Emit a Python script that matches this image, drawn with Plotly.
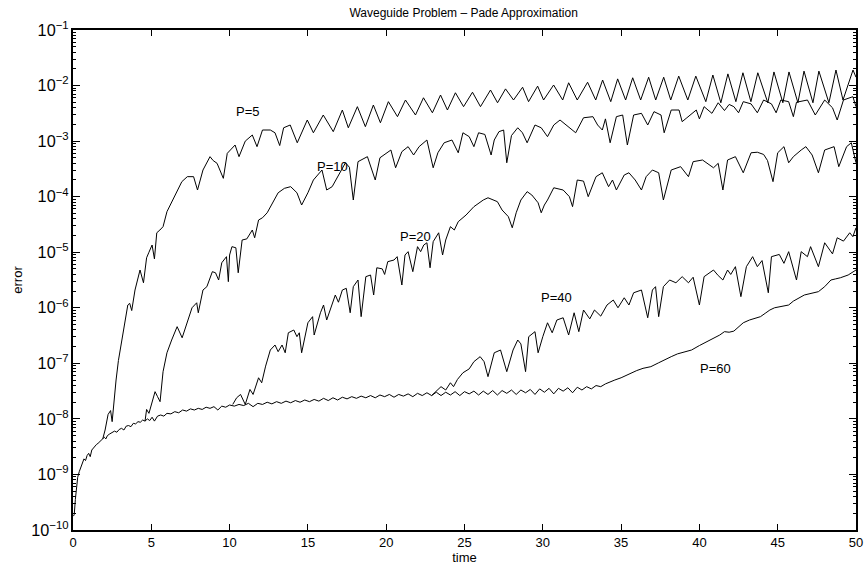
import plotly.graph_objects as go

# ---- data: time values and log10(error) ----
p60_t = [0.03, 0.08, 0.15, 0.22, 0.3, 0.4, 0.5, 0.6, 0.7, 0.8, 0.9, 1.0, 1.1, 1.2, 1.3, 1.4, 1.5, 1.6, 1.7, 1.8, 1.9,
         2.0, 2.1, 2.2, 2.35, 2.5, 2.65, 2.8, 2.95, 3.1, 3.25, 3.4, 3.55, 3.7, 3.85, 4.0, 4.15, 4.3, 4.45, 4.6, 4.75,
         4.9, 5.05, 5.2, 5.4, 5.6, 5.8, 6.0, 6.25, 6.5, 6.75, 7.0, 7.25, 7.5, 7.75, 8.0, 8.25, 8.5, 8.75, 9.0, 9.25,
         9.5, 9.75, 10.0, 10.3, 10.6, 10.9, 11.2, 11.5, 11.8, 12.1, 12.4, 12.7, 13.0, 13.3, 13.6, 13.9, 14.2, 14.5,
         14.8, 15.1, 15.4, 15.7, 16.0, 16.3, 16.6, 16.9, 17.2, 17.5, 17.8, 18.1, 18.4, 18.7, 19.0, 19.3, 19.6, 19.9,
         20.2, 20.5, 20.8, 21.1, 21.4, 21.7, 22.0, 22.3, 22.6, 22.9, 23.2, 23.5, 23.8, 24.1, 24.4, 24.7, 25.0, 25.3,
         25.6, 25.9, 26.2, 26.5, 26.8, 27.1, 27.4, 27.7, 28.0, 28.3, 28.6, 28.9, 29.2, 29.5, 29.8, 30.1, 30.4, 30.7,
         31.0, 31.3, 31.6, 31.9, 32.2, 32.5, 32.8, 33.1, 33.4, 33.7, 34.0, 34.3, 34.6, 35.0, 35.3, 35.6, 36.0, 36.4,
         36.9, 37.4, 37.8, 38.2, 38.6, 39.0, 39.5, 40.0, 40.4, 40.7, 41.0, 41.3, 41.6, 41.9, 42.2, 42.5, 42.8, 43.2,
         43.6, 43.9, 44.2, 44.5, 44.8, 45.2, 45.7, 46.0, 46.4, 46.7, 47.0, 47.4, 47.6, 48.0, 48.4, 48.7, 49.0, 49.5, 50.0]
p60_log = [-9.75, -9.72, -9.45, -9.2, -9.05, -8.95, -8.88, -8.82, -8.72, -8.75, -8.66, -8.62, -8.68, -8.56, -8.52,
           -8.5, -8.46, -8.44, -8.41, -8.38, -8.36, -8.33, -8.36, -8.3, -8.27, -8.25, -8.22, -8.24, -8.19, -8.17,
           -8.2, -8.13, -8.12, -8.14, -8.08, -8.09, -8.05, -8.06, -8.02, -8.04, -8.0, -8.03, -7.97, -8.04, -7.95,
           -7.93, -7.95, -7.9, -7.91, -7.87, -7.89, -7.84, -7.86, -7.82, -7.84, -7.81, -7.83, -7.79, -7.81, -7.78,
           -7.84, -7.77, -7.79, -7.75, -7.77, -7.74, -7.76, -7.72, -7.78, -7.72, -7.74, -7.7, -7.73, -7.69, -7.72,
           -7.68, -7.71, -7.67, -7.7, -7.66, -7.69, -7.65, -7.68, -7.63, -7.67, -7.62, -7.66, -7.61, -7.64, -7.6,
           -7.63, -7.59, -7.62, -7.58, -7.62, -7.57, -7.6, -7.56, -7.61, -7.56, -7.59, -7.55, -7.6, -7.54, -7.58,
           -7.53, -7.58, -7.52, -7.58, -7.52, -7.57, -7.51, -7.58, -7.51, -7.55, -7.5, -7.57, -7.5, -7.56, -7.49,
           -7.57, -7.49, -7.54, -7.48, -7.56, -7.48, -7.53, -7.47, -7.56, -7.46, -7.52, -7.45, -7.55, -7.45, -7.5,
           -7.44, -7.53, -7.43, -7.48, -7.42, -7.46, -7.4, -7.42, -7.37, -7.33, -7.3, -7.26, -7.22, -7.17, -7.13,
           -7.09, -7.06, -6.99, -6.93, -6.88, -6.83, -6.8, -6.76, -6.68, -6.62, -6.58, -6.54, -6.49, -6.43, -6.44,
           -6.42, -6.34, -6.27, -6.22, -6.18, -6.16, -6.1, -6.04, -6.0, -5.98, -5.95, -5.88, -5.81, -5.77, -5.75,
           -5.72, -5.71, -5.62, -5.5, -5.48, -5.46, -5.41, -5.32]

p5_t = [1.9, 2.05, 2.24, 2.4, 2.5, 2.6, 2.75, 2.9, 3.05, 3.2, 3.35, 3.5, 3.62, 3.75, 3.96, 4.1, 4.28, 4.5, 4.7, 4.85,
        5.05, 5.2, 5.35, 5.55, 5.75, 6.0, 6.3, 6.65, 6.95, 7.3, 7.7, 7.95, 8.3, 8.75, 8.95, 9.2, 9.6, 9.85, 10.35,
        10.6, 11.0, 11.45, 11.75, 12.1, 12.6, 12.9, 13.2, 13.45, 13.87, 14.32, 14.96, 15.35, 15.98, 16.62, 17.2,
        17.58, 18.16, 18.67, 19.18, 19.63, 20.14, 20.72, 21.23, 21.87, 22.38, 22.95, 23.47, 23.91, 24.42, 24.94,
        25.51, 26.02, 26.66, 27.11, 27.62, 28.13, 28.71, 29.09, 29.67, 30.05, 30.69, 31.27, 31.65, 32.2, 32.86,
        33.38, 33.82, 34.34, 34.78, 35.29, 35.74, 36.25, 36.76, 37.21, 37.72, 38.17, 38.68, 39.26, 39.77, 40.41,
        40.86, 41.37, 41.82, 42.33, 42.78, 43.29, 43.73, 44.37, 44.76, 45.33, 45.72, 46.29, 46.68, 47.25, 47.63,
        48.27, 48.72, 49.17, 49.81, 50.0]
p5_log = [-8.36, -8.2, -7.92, -7.85, -8.05, -7.7, -7.3, -6.95, -6.7, -6.4, -6.2, -5.95, -5.92, -6.05, -5.68, -5.5,
          -5.32, -5.55, -5.1, -5.0, -4.87, -5.12, -4.65, -4.6, -4.54, -4.27, -4.1, -3.93, -3.73, -3.64, -3.64, -3.88,
          -3.52, -3.28, -3.35, -3.4, -3.67, -3.22, -3.07, -3.28, -3.0, -2.89, -3.1, -2.8, -2.8, -2.85, -3.08, -2.76,
          -2.71, -3.03, -2.62, -2.85, -2.53, -2.83, -2.44, -2.76, -2.38, -2.74, -2.35, -2.67, -2.29, -2.56, -2.26,
          -2.53, -2.22, -2.49, -2.17, -2.44, -2.13, -2.38, -2.12, -2.38, -2.08, -2.31, -2.06, -2.26, -2.03, -2.29,
          -2.01, -2.26, -1.99, -2.26, -1.95, -2.26, -1.94, -2.26, -1.9, -2.29, -1.88, -2.26, -1.86, -2.26, -1.85,
          -2.26, -1.85, -2.26, -1.83, -2.26, -1.83, -2.29, -1.81, -2.31, -1.79, -2.29, -1.77, -2.29, -1.77, -2.31,
          -1.755, -2.31, -1.755, -2.31, -1.74, -2.31, -1.74, -2.31, -1.72, -2.26, -1.72, -1.85]

p10_t = [4.6, 4.7, 4.85, 5.0, 5.24, 5.4, 5.56, 5.75, 6.0, 6.3, 6.65, 6.97, 7.29, 7.6, 7.9, 8.0, 8.3, 8.55, 8.9, 9.1,
         9.3, 9.5, 9.8, 9.92, 10.0, 10.15, 10.4, 10.55, 10.8, 11.1, 11.45, 11.6, 11.85, 12.1, 12.4, 12.6, 12.85,
         13.1, 13.5, 13.9, 14.3, 14.6, 15.0, 15.35, 15.9, 16.2, 16.55, 16.9, 17.4, 17.65, 17.9, 18.2, 18.8, 19.3,
         19.6, 20.3, 20.6, 21.0, 21.4, 21.75, 22.1, 22.6, 23.0, 23.3, 23.7, 24.2, 24.6, 24.9, 25.3, 25.6, 25.9,
         26.3, 26.7, 26.9, 27.2, 27.5, 27.7, 28.0, 28.4, 28.7, 29.0, 29.5, 29.9, 30.3, 30.7, 31.1, 31.5, 32.1,
         32.6, 33.2, 33.5, 33.8, 34.0, 34.3, 34.7, 35.1, 35.4, 35.8, 36.3, 36.7, 37.1, 37.55, 37.75, 38.2, 38.7,
         38.9, 39.2, 39.8, 40.0, 40.3, 40.8, 41.2, 41.6, 41.9, 42.2, 42.5, 42.8, 43.3, 43.7, 44.1, 44.6, 44.9,
         45.2, 45.7, 46.0, 46.2, 46.9, 47.4, 48.0, 48.5, 48.8, 49.2, 49.8, 50.0]
p10_log = [-8.04, -7.83, -7.9, -7.75, -7.51, -7.6, -7.69, -7.15, -6.81, -6.58, -6.34, -6.54, -6.27, -6.0, -5.91,
           -6.09, -5.68, -5.62, -5.35, -5.37, -5.5, -5.19, -5.08, -5.53, -5.05, -4.9, -4.92, -5.37, -4.78, -4.76,
           -4.6, -4.74, -4.42, -4.38, -4.29, -4.18, -4.05, -3.93, -3.85, -3.82, -3.93, -4.15, -3.93, -3.7, -3.52,
           -3.88, -3.82, -3.64, -3.39, -3.47, -4.06, -3.37, -3.28, -3.7, -3.3, -3.16, -3.48, -3.19, -3.1, -3.25,
           -3.1, -2.98, -3.48, -3.21, -3.03, -2.98, -3.21, -2.85, -2.92, -3.1, -2.85, -2.88, -3.25, -2.98, -2.83,
           -2.8, -3.39, -2.9, -2.76, -2.85, -3.03, -2.71, -2.76, -2.92, -2.71, -2.62, -2.71, -2.85, -2.58, -2.56,
           -2.71, -2.8, -2.6, -3.03, -2.56, -2.53, -3.07, -2.53, -2.5, -2.71, -2.47, -2.53, -2.85, -2.44, -2.44,
           -2.65, -2.58, -2.44, -2.6, -2.38, -2.5, -2.31, -2.45, -2.34, -2.38, -2.49, -2.29, -2.33, -2.49, -2.26,
           -2.33, -2.49, -2.26, -2.29, -2.56, -2.3, -2.26, -2.53, -2.26, -2.4, -2.62, -2.26, -2.2, -2.38]

p20_t = [10.2, 10.45, 10.7, 11.0, 11.3, 11.5, 11.85, 12.05, 12.3, 12.6, 12.9, 13.1, 13.35, 13.55, 13.75, 14.1, 14.3,
         14.45, 14.6, 15.0, 15.3, 15.4, 15.8, 16.0, 16.2, 16.6, 16.75, 16.95, 17.2, 17.45, 17.7, 17.9, 18.2, 18.4,
         18.7, 19.0, 19.2, 19.4, 19.75, 19.9, 20.1, 20.5, 20.7, 21.0, 21.2, 21.4, 21.7, 22.0, 22.2, 22.4, 22.6,
         22.8, 23.0, 23.35, 23.6, 23.8, 24.1, 24.35, 24.6, 25.1, 25.6, 26.2, 26.5, 27.1, 27.4, 27.8, 28.05, 28.3,
         28.6, 29.0, 29.3, 29.7, 29.9, 30.1, 30.3, 30.7, 31.3, 31.7, 31.9, 32.2, 32.6, 32.9, 33.4, 33.8, 34.2,
         34.45, 34.7, 35.2, 35.5, 35.9, 36.3, 36.6, 37.0, 37.4, 37.7, 38.2, 38.8, 39.3, 39.6, 40.2, 40.5, 40.9,
         41.2, 41.5, 41.8, 42.3, 42.8, 43.3, 43.7, 44.1, 44.35, 44.7, 45.0, 45.4, 45.7, 46.0, 46.5, 46.8, 47.2,
         47.6, 48.0, 48.6, 48.9, 49.4, 49.7, 50.0]
p20_log = [-7.74, -7.62, -7.56, -7.74, -7.47, -7.56, -7.26, -7.35, -7.05, -6.76, -6.67, -6.79, -6.67, -6.81, -6.45,
           -6.4, -6.52, -6.45, -6.81, -6.27, -6.16, -6.49, -6.09, -5.95, -6.22, -5.91, -5.77, -5.9, -5.68, -5.65,
           -6.09, -5.62, -5.5, -6.16, -5.44, -5.41, -5.77, -5.28, -5.3, -5.4, -5.17, -5.14, -5.08, -5.59, -5.05,
           -4.99, -5.35, -4.9, -4.99, -4.87, -4.83, -5.28, -4.81, -4.65, -5.05, -4.78, -4.54, -4.6, -4.45, -4.33,
           -4.18, -4.06, -4.02, -4.09, -4.24, -4.36, -4.56, -4.29, -4.06, -3.91, -3.97, -4.11, -4.29, -4.15, -4.06,
           -3.84, -3.88, -4.0, -4.18, -3.7, -3.72, -4.0, -3.64, -3.57, -3.82, -3.7, -3.88, -3.61, -3.57, -3.7,
           -3.88, -3.64, -3.52, -3.57, -4.06, -3.52, -3.46, -3.64, -3.37, -3.34, -3.4, -3.48, -3.4, -3.88, -3.34,
           -3.28, -3.57, -3.21, -3.2, -3.24, -3.35, -3.73, -3.21, -3.1, -3.39, -3.28, -3.16, -3.1, -3.25, -3.57,
           -3.16, -3.1, -3.46, -3.1, -3.03, -3.39]

p40_t = [22.9, 23.2, 23.5, 23.8, 24.1, 24.3, 24.55, 24.9, 25.3, 25.6, 26.0, 26.25, 26.5, 26.9, 27.3, 27.7, 28.1, 28.4,
         28.6, 28.9, 29.1, 29.5, 29.7, 30.0, 30.3, 30.6, 30.9, 31.3, 31.65, 32.0, 32.3, 32.6, 33.0, 33.3, 33.7,
         34.1, 34.5, 34.8, 35.2, 35.5, 35.8, 36.3, 36.7, 37.0, 37.2, 37.4, 37.7, 38.1, 38.5, 38.9, 39.3, 39.6,
         40.0, 40.3, 40.9, 41.2, 41.5, 41.8, 42.0, 42.3, 42.65, 43.0, 43.4, 43.7, 44.0, 44.4, 44.6, 45.1, 45.4,
         45.7, 46.2, 46.5, 46.9, 47.1, 47.6, 48.0, 48.3, 48.5, 48.8, 49.2, 49.6, 49.8, 50.0]
p40_log = [-7.58, -7.5, -7.42, -7.48, -7.35, -7.42, -7.29, -7.17, -7.1, -6.97, -6.88, -6.97, -7.24, -6.81, -6.76,
           -7.15, -6.76, -6.58, -6.65, -7.15, -6.52, -6.43, -6.81, -6.52, -6.27, -6.45, -6.22, -6.18, -6.49, -6.09,
           -6.43, -6.04, -6.2, -6.04, -6.15, -5.95, -5.86, -6.0, -5.82, -5.95, -5.73, -5.68, -6.18, -5.68, -5.62,
           -6.16, -5.62, -5.5, -5.55, -5.44, -5.55, -5.45, -5.95, -5.44, -5.32, -5.42, -5.5, -5.32, -5.4, -5.26,
           -5.8, -5.26, -5.08, -5.26, -5.15, -5.73, -5.08, -5.04, -5.2, -4.99, -5.5, -4.99, -5.08, -4.9, -5.26,
           -4.83, -4.95, -5.03, -4.74, -4.8, -4.65, -4.72, -4.56]

series = [("P=5", p5_t, p5_log), ("P=10", p10_t, p10_log), ("P=20", p20_t, p20_log),
          ("P=40", p40_t, p40_log), ("P=60", p60_t, p60_log)]

# label positions (time, log10 error)
label_text = ["P=5", "P=10", "P=20", "P=40", "P=60"]
label_t = [11.2, 16.55, 21.9, 30.9, 41.05]
label_log = [-2.47, -3.45, -4.72, -5.82, -7.1]

x_ticks = [0, 5, 10, 15, 20, 25, 30, 35, 40, 45, 50]

FONT = "Liberation Sans, Arial"

fig = go.Figure()
for name, t, lg in series:
    fig.add_trace(go.Scatter(x=t, y=[10 ** v for v in lg], mode="lines", name=name,
                             line=dict(color="black", width=1)))

for txt, tx, ly in zip(label_text, label_t, label_log):
    fig.add_annotation(x=tx, y=ly, xref="x", yref="y", text=txt, showarrow=False,
                       font=dict(family=FONT, size=13, color="black"))

axis_common = dict(showline=True, linecolor="black", linewidth=1.5, mirror="allticks", ticks="inside",
                   showgrid=False, zeroline=False, tickcolor="black", automargin=False,
                   tickfont=dict(family=FONT, size=13, color="black"))

fig.update_layout(
    width=865, height=567,
    margin=dict(l=73, r=9, t=30, b=37),
    paper_bgcolor="white", plot_bgcolor="white",
    showlegend=False,
    title=dict(text="Waveguide Problem \u2013 Pade Approximation", x=0.536, xanchor="center", y=0.985, yanchor="top",
               font=dict(family=FONT, size=12, color="black")),
    xaxis=dict(range=[0, 50], tickvals=x_ticks, ticklen=6, ticklabelstandoff=0,
               title=dict(text="time", standoff=1, font=dict(family=FONT, size=13, color="black")),
               **axis_common),
    yaxis=dict(type="log", range=[-10, -1], dtick=1, exponentformat="power", ticklen=7,
               minor=dict(ticks="inside", ticklen=3, tickcolor="black", dtick="D1", showgrid=False),
               title=dict(text="error", standoff=6, font=dict(family=FONT, size=13, color="black")),
               **axis_common),
)

fig.write_html("out.html")
